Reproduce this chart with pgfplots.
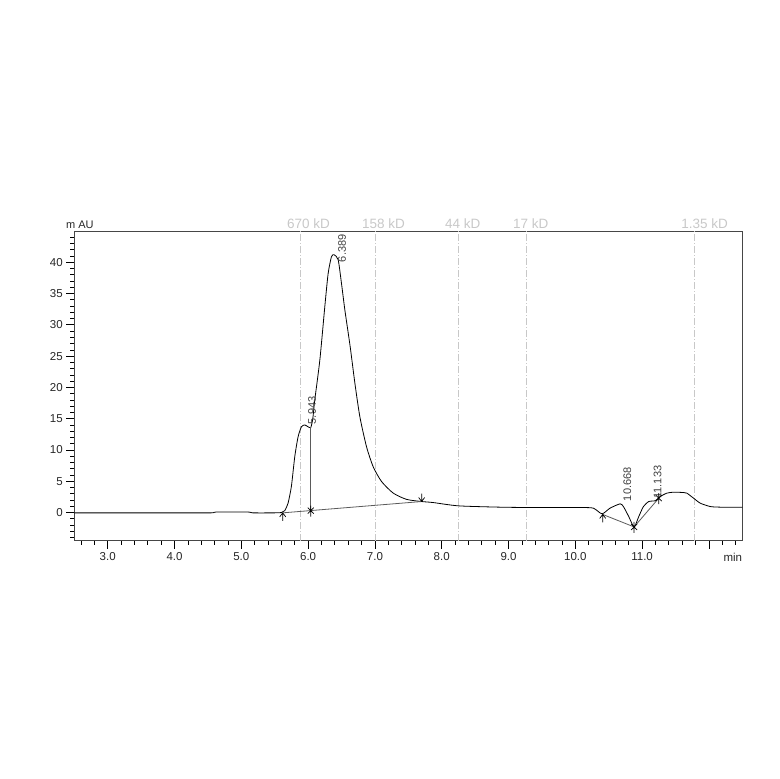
\documentclass[border=0pt]{standalone}
\usepackage{pgfplots}
\pgfplotsset{compat=1.18}
\usepackage{fontspec}
\setmainfont{Liberation Sans}
\pgfdeclareplotmark{bstart}{%
  \pgfpathmoveto{\pgfpoint{-3pt}{-4pt}}\pgfpathlineto{\pgfpointorigin}\pgfpathlineto{\pgfpoint{3pt}{-4pt}}%
  \pgfpathmoveto{\pgfpointorigin}\pgfpathlineto{\pgfpoint{0pt}{-8pt}}\pgfusepathqstroke}
\pgfdeclareplotmark{bend}{%
  \pgfpathmoveto{\pgfpoint{-3pt}{4pt}}\pgfpathlineto{\pgfpointorigin}\pgfpathlineto{\pgfpoint{3pt}{4pt}}%
  \pgfpathmoveto{\pgfpointorigin}\pgfpathlineto{\pgfpoint{0pt}{8pt}}\pgfusepathqstroke}
\pgfdeclareplotmark{bdrop}{%
  \pgfpathmoveto{\pgfpoint{-3pt}{-3pt}}\pgfpathlineto{\pgfpoint{3pt}{3pt}}%
  \pgfpathmoveto{\pgfpoint{-3pt}{3pt}}\pgfpathlineto{\pgfpoint{3pt}{-3pt}}%
  \pgfpathmoveto{\pgfpoint{0pt}{-6pt}}\pgfpathlineto{\pgfpoint{0pt}{5pt}}\pgfusepathqstroke}
\definecolor{kdgray}{RGB}{200,200,200}
\definecolor{axgray}{RGB}{70,70,70}
\definecolor{blgray}{RGB}{90,90,90}
\begin{document}
\begin{tikzpicture}
\useasboundingbox (0,0) rectangle (779pt,779pt);
\begin{axis}[
  at={(74.3pt,238.3pt)}, anchor=south west,
  scale only axis, width=668pt, height=309.7pt,
  xmin=2.5, xmax=12.5, ymin=-4.5, ymax=45,
  clip=false,
  axis line style={axgray, line width=0.8pt},
  tick align=outside, tick pos=left,
  major tick length=8pt, minor tick length=4pt,
  tick style={black, line width=0.7pt},
  xtick={3,4,...,12},
  xticklabels={3.0,4.0,5.0,6.0,7.0,8.0,9.0,10.0,11.0,{}},
  minor xtick={2.6,2.8,...,12.41},
  ytick={0,5,...,40},
  minor ytick={-4,-3,...,44},
  tick label style={font=\fontsize{11.5}{13}\selectfont, text=black!85},
  yticklabel style={/pgf/number format/assume math mode=true, xshift=0pt},
]
% reference lines for MW standards
\pgfplotsinvokeforeach{5.876,7.0,8.243,9.26,11.78}{
  \addplot[kdgray, line width=0.6pt, dash pattern=on 7pt off 2pt on 1pt off 2pt, forget plot] coordinates {(#1,-4.5) (#1,45)};
}
\node[anchor=base west, text=kdgray, font=\fontsize{13.5}{15}\selectfont, xshift=-13pt, yshift=2.7pt, inner sep=0] at (axis cs:5.876,45) {670 kD};
\node[anchor=base west, text=kdgray, font=\fontsize{13.5}{15}\selectfont, xshift=-13pt, yshift=2.7pt, inner sep=0] at (axis cs:7.0,45) {158 kD};
\node[anchor=base west, text=kdgray, font=\fontsize{13.5}{15}\selectfont, xshift=-13pt, yshift=2.7pt, inner sep=0] at (axis cs:8.243,45) {44 kD};
\node[anchor=base west, text=kdgray, font=\fontsize{13.5}{15}\selectfont, xshift=-13pt, yshift=2.7pt, inner sep=0] at (axis cs:9.26,45) {17 kD};
\node[anchor=base west, text=kdgray, font=\fontsize{13.5}{15}\selectfont, xshift=-13pt, yshift=2.7pt, inner sep=0] at (axis cs:11.78,45) {1.35 kD};
% chromatogram
\addplot[black, line width=0.8pt, smooth, tension=0.4] coordinates {
(2.5,-0.05) (3.0,-0.05) (4.0,-0.05) (4.55,-0.05) (4.62,0.08) (5.1,0.08) (5.17,-0.05) (5.5,-0.05)
(5.6,0.0) (5.65,0.3) (5.70,1.5) (5.75,4.2) (5.80,8.9) (5.85,12.1) (5.90,13.7) (5.95,14.0)
(6.0,13.7) (6.04,13.6) (6.07,15.0) (6.10,18.0) (6.176,24.4) (6.25,32.9) (6.30,38.2) (6.35,40.9)
(6.39,41.2) (6.45,40.4) (6.50,36.6) (6.55,32.4) (6.63,26.5) (6.70,20.7) (6.775,15.3) (6.875,10.5)
(6.975,7.3) (7.10,4.95) (7.275,3.1) (7.475,2.1) (7.70,1.76) (7.87,1.6) (8.25,1.07) (8.87,0.86)
(9.37,0.8) (10.07,0.8) (10.27,0.7) (10.40,-0.2) (10.52,0.7) (10.67,1.39) (10.72,0.96) (10.80,-0.64)
(10.88,-2.3) (10.95,-0.64) (11.02,0.96) (11.10,1.76) (11.20,1.9) (11.27,2.55) (11.37,3.1) (11.47,3.25)
(11.62,3.2) (11.67,3.1) (11.77,2.3) (11.87,1.5) (12.02,0.96) (12.17,0.86) (12.5,0.86)
};
% integration baselines and drop line
\addplot[blgray, line width=0.8pt] coordinates {(5.62,-0.05) (7.70,1.76)};
\addplot[blgray, line width=0.8pt] coordinates {(6.04,0.32) (6.04,13.6)};
\addplot[blgray, line width=0.8pt] coordinates {(10.41,-0.3) (10.88,-2.3) (11.25,2.3)};
% markers
\addplot[only marks, mark=bstart, black, mark options={line width=0.7pt}] coordinates {(5.62,-0.05) (10.41,-0.3)};
\addplot[only marks, mark=bend, black, mark options={line width=0.7pt}] coordinates {(7.70,1.76)};
\addplot[only marks, mark=bdrop, black, mark options={line width=0.7pt}] coordinates {(6.04,0.32) (10.88,-2.3) (11.25,2.3)};
% peak labels
\node[rotate=90, anchor=west, inner sep=0, text=black!75, font=\fontsize{11}{12}\selectfont] at (axis cs:6.51,40.0) {6.389};
\node[rotate=90, anchor=west, inner sep=0, text=black!75, font=\fontsize{11}{12}\selectfont] at (axis cs:6.06,14.1) {5.943};
\node[rotate=90, anchor=west, inner sep=0, text=black!75, font=\fontsize{11}{12}\selectfont] at (axis cs:10.78,1.8) {10.668};
\node[rotate=90, anchor=west, inner sep=0, text=black!75, font=\fontsize{11}{12}\selectfont] at (axis cs:11.23,2.2) {11.133};
% axis unit labels
\node[anchor=base west, inner sep=0, xshift=-8.3pt, yshift=2pt, text=black!85, font=\fontsize{11}{12}\selectfont] at (rel axis cs:0,1) {m AU};
\node[anchor=base east, inner sep=0, yshift=-21pt, text=black!85, font=\fontsize{11.5}{13}\selectfont] at (rel axis cs:1,0) {min};
\end{axis}
\end{tikzpicture}
\end{document}
